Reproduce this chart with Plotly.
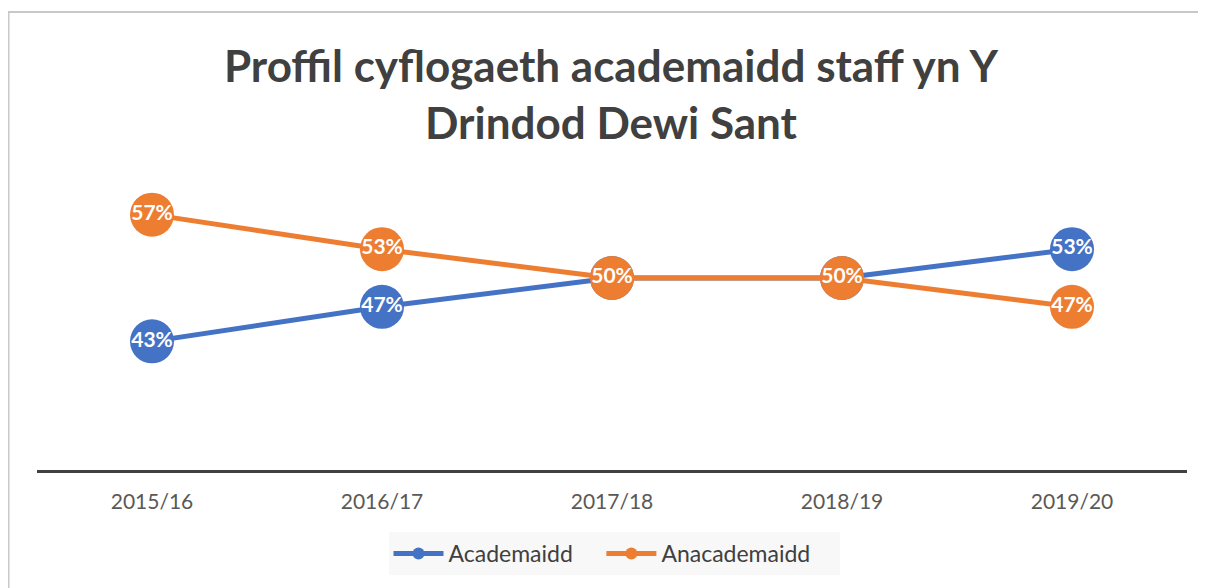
import plotly.graph_objects as go

years = ["2015/16", "2016/17", "2017/18", "2018/19", "2019/20"]
academaidd = [0.434, 0.47, 0.50, 0.50, 0.53]
anacademaidd = [0.566, 0.53, 0.50, 0.50, 0.47]
series_names = ["Academaidd", "Anacademaidd"]

BLUE = "#4472C4"
ORANGE = "#ED7D31"
FONT = "Lato"
NB = "\u00a0"

fig = go.Figure()
for name, vals, col, pad in [(series_names[0], academaidd, BLUE, 4), (series_names[1], anacademaidd, ORANGE, 4)]:
    fig.add_trace(go.Scatter(
        x=years, y=vals, name=name + NB * pad, mode="lines+markers+text",
        line=dict(color=col, width=5),
        marker=dict(color=col, size=44),
        texttemplate="<b>%{y:.0%}</b>", textposition="middle center",
        textfont=dict(color="white", size=21, family=FONT),
        cliponaxis=False,
    ))

# page is offset by 8px body margin; work in figure coords
OFF = 8
W, H = 1198, 580
L, R, T, B = 37 - OFF, 1198 - (1187 - OFF), 182 - OFF, 580 - (470 - OFF)
pw, ph = W - L - R, H - T - B

def px(x):
    return (x - OFF - L) / pw

def py(y):
    return (H - B - (y - OFF)) / ph

fig.update_layout(
    width=W, height=H,
    margin=dict(l=L, r=R, t=T, b=B),
    paper_bgcolor="white", plot_bgcolor="white",
    font=dict(family=FONT, color="#404040"),
    title=dict(text="<b>Proffil cyflogaeth academaidd staff yn Y<br>Drindod Dewi Sant</b>",
               x=px(611), xref="paper", xanchor="center",
               y=1 - 74 / H, yref="container", yanchor="middle",
               font=dict(size=44, color="#404040", family=FONT)),
    xaxis=dict(type="category", range=[-0.5, 4.5], showline=True, linecolor="#404040", linewidth=3,
               showgrid=False, zeroline=False, ticks="outside", ticklen=11, tickcolor="rgba(0,0,0,0)",
               tickfont=dict(size=21, color="#595959", family=FONT)),
    yaxis=dict(range=[0.3, 0.6], visible=False, showgrid=False, zeroline=False),
    legend=dict(orientation="h", x=px(614), xanchor="center", y=py(532), yanchor="top",
                bgcolor="#f8f8f8", font=dict(size=23, color="#404040", family=FONT),
                itemsizing="constant", itemwidth=50),
    shapes=[
        dict(type="line", xref="paper", yref="paper", x0=px(8), x1=px(1220), y0=py(12), y1=py(12),
             line=dict(color="#c8c8c8", width=2)),
        dict(type="line", xref="paper", yref="paper", x0=px(8.5), x1=px(8.5), y0=py(12), y1=py(600),
             line=dict(color="#c8c8c8", width=2)),
    ],
)

fig.write_html("out.html")
